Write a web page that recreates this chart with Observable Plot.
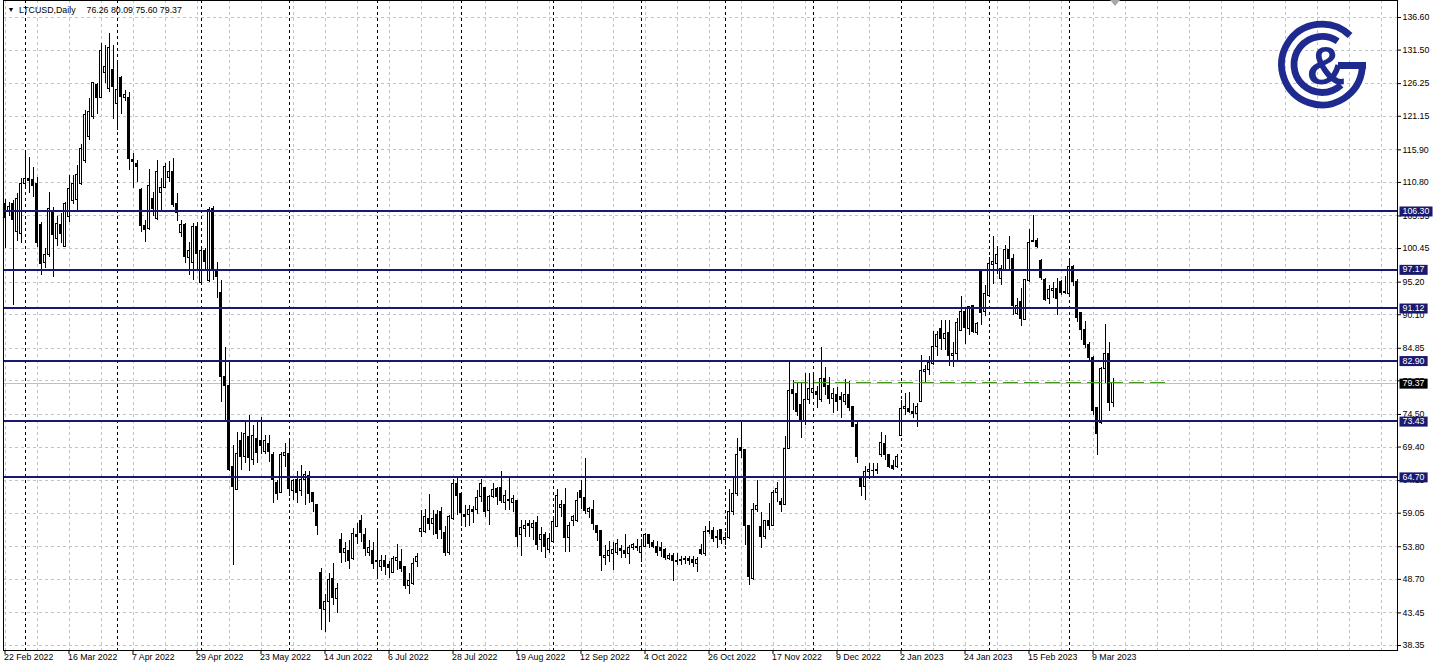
<!DOCTYPE html>
<html><head><meta charset="utf-8">
<script src="https://cdn.jsdelivr.net/npm/d3@7"></script>
<script src="https://cdn.jsdelivr.net/npm/@observablehq/plot@0.6"></script>
<style>
html,body{margin:0;padding:0;background:#fff;}
#chart{width:1438px;height:668px;overflow:hidden;}
</style></head><body><div id="chart"></div>
<script>
// ---------------- data ----------------
const symbol = "LTCUSD";
const timeframe = "Daily";
const open = [
107.45,106.15,107.45,103.0,102.8,110.6,111.4,111.2,110.5,104.2,
98.2,99.4,106.4,102.0,104.2,100.7,105.4,107.96,108.1,110.5,
114.2,117.9,121.0,125.97,124.0,127.9,125.4,128.4,123.0,127.2,
124.0,124.0,114.3,113.7,109.6,104.05,103.5,108.2,105.1,109.1,
110.0,111.5,112.4,107.4,102.9,104.2,99.0,98.2,103.9,95.0,
100.1,95.3,106.7,97.0,93.5,80.3,78.9,66.2,62.7,70.3,
67.8,70.9,67.3,70.7,70.3,68.7,69.9,68.2,63.8,62.2,
68.0,68.3,62.6,64.2,62.6,64.3,64.8,62.2,60.3,49.7,
43.9,45.1,48.8,45.6,54.9,52.9,53.1,51.9,55.6,57.9,
55.6,52.9,53.2,51.6,50.7,51.5,50.9,49.7,51.6,51.4,
50.6,47.7,48.0,51.4,56.1,56.1,58.1,57.4,58.7,59.2,
55.9,52.8,58.2,63.6,62.0,58.8,58.7,59.6,59.6,61.6,
63.0,59.4,61.6,62.9,63.0,60.6,61.1,60.6,61.0,55.6,
56.6,57.4,56.8,57.5,54.8,55.6,53.3,54.5,56.9,59.9,
60.3,55.2,57.8,57.9,62.6,61.4,59.2,59.6,57.1,56.2,
52.1,52.4,52.7,52.9,53.5,53.2,52.7,53.6,53.8,52.8,
53.8,55.6,54.4,53.8,53.6,53.3,51.9,52.4,51.6,51.5,
51.9,51.9,51.7,51.1,53.3,52.6,56.1,56.2,55.4,56.4,
54.9,55.2,59.2,62.1,69.3,68.9,57.1,48.8,59.5,56.9,
55.3,57.8,57.1,62.2,60.8,60.4,69.1,78.3,77.7,75.9,
73.3,76.8,77.8,78.0,76.7,80.1,78.9,76.9,77.6,77.2,
76.4,77.6,75.6,72.8,64.4,63.1,65.5,65.6,65.6,68.1,
69.9,68.1,66.5,66.2,71.2,75.4,75.4,74.9,74.6,76.4,
81.1,81.4,82.4,85.1,87.9,86.3,87.2,83.6,83.9,87.6,
90.5,87.9,91.4,87.2,96.9,90.5,93.1,97.9,98.1,95.7,
97.1,100.3,98.8,90.2,92.1,89.3,95.4,101.5,101.7,98.5,
95.6,92.6,93.8,94.2,95.2,93.6,93.4,97.6,95.2,90.3,
87.7,85.4,83.4,75.5,73.1,81.6,83.9,76.26];
const high = [
108.2,107.7,108.0,109.0,111.4,115.8,114.7,113.2,111.5,104.6,
100.4,109.3,106.9,105.4,105.9,107.7,111.9,111.9,113.5,116.8,
122.0,123.9,126.5,126.2,132.6,132.2,134.05,132.2,129.6,127.3,
125.2,124.9,115.3,114.2,109.8,104.8,112.8,109.3,114.2,111.4,
113.7,114.0,114.5,109.0,104.8,104.3,101.4,104.3,104.6,100.4,
100.4,106.9,107.0,98.3,95.5,85.0,82.9,69.6,71.7,71.7,
73.3,74.3,72.8,73.6,74.1,71.2,71.2,68.6,64.2,68.6,
69.9,70.4,64.4,65.5,66.5,65.5,65.5,62.3,60.4,50.4,
46.4,49.6,51.2,48.0,55.8,54.4,54.8,56.6,57.5,58.7,
56.6,54.8,54.5,56.4,52.4,52.4,51.5,52.2,54.1,53.3,
50.7,49.6,51.9,52.8,59.5,59.7,61.97,59.5,59.5,60.0,
56.9,58.7,64.4,64.7,62.1,60.3,60.3,60.1,62.6,64.3,
63.1,61.8,63.7,63.1,65.5,62.6,64.8,61.8,61.0,57.9,
57.9,57.9,57.9,58.5,56.8,56.1,55.8,58.2,62.7,61.1,
62.9,57.6,58.7,62.3,64.2,67.6,60.0,61.0,57.1,56.2,
54.0,54.7,54.5,54.9,54.0,55.7,54.0,54.3,55.0,54.9,
55.8,55.7,54.8,54.7,54.5,53.5,52.8,52.8,52.7,52.2,
52.3,52.2,52.2,52.1,54.2,56.97,57.8,56.8,56.4,56.4,
56.1,62.7,64.7,70.7,73.3,69.0,57.1,60.6,64.2,59.2,
57.9,60.5,62.6,63.9,61.3,71.0,82.9,79.8,79.5,79.5,
80.9,80.9,80.9,78.8,85.0,81.9,80.3,78.5,78.7,78.0,
79.9,79.6,75.7,73.3,64.7,66.3,66.8,66.9,66.8,71.6,
71.2,68.2,67.3,68.3,76.7,77.7,78.0,76.2,76.2,83.7,
82.2,83.5,87.4,87.5,89.2,89.2,89.2,85.8,89.5,92.95,
91.3,91.4,91.5,88.9,97.0,94.7,99.1,102.3,100.7,97.8,
100.9,102.3,99.6,92.6,94.2,95.6,103.4,105.6,101.97,98.7,
95.7,94.7,95.2,95.7,95.5,96.1,98.6,97.8,95.6,90.3,
89.1,85.8,83.6,75.5,81.9,88.6,85.8,80.09];
const low = [
100.4,105.4,91.5,101.5,101.2,110.0,109.0,108.5,100.6,96.2,
97.3,99.1,95.9,100.7,101.2,100.7,104.6,107.4,106.1,110.3,
113.7,117.4,120.7,121.5,123.9,126.2,124.9,120.7,118.9,121.5,
123.5,112.7,109.8,110.8,102.9,101.4,103.2,105.4,104.8,106.4,
109.8,110.8,106.9,104.7,102.2,98.1,96.2,95.5,96.8,94.7,
96.8,95.2,95.5,92.6,76.4,73.3,65.5,50.9,62.6,65.7,
66.8,65.6,66.5,66.8,68.3,68.3,67.0,60.5,61.0,62.1,
66.2,61.6,61.0,60.5,61.6,60.3,60.5,59.2,55.6,40.7,
40.4,42.0,44.6,43.3,51.2,51.4,50.3,51.6,54.2,54.5,
52.2,52.2,50.3,49.0,50.0,49.3,48.9,49.6,50.1,49.7,
47.1,46.3,47.7,50.6,55.3,55.8,56.3,55.6,55.0,55.0,
52.2,52.4,57.9,58.7,57.0,56.8,56.9,57.4,58.8,60.8,
58.3,57.1,61.4,60.3,60.5,59.5,59.4,59.2,53.7,52.3,
55.3,55.2,54.8,53.2,52.9,51.9,52.7,54.3,56.8,58.3,
52.9,52.9,56.9,57.6,59.7,58.8,58.2,56.4,54.7,50.0,
50.9,51.4,50.1,52.4,51.9,51.9,51.0,53.2,53.1,51.4,
53.7,53.5,53.6,52.3,52.1,51.6,51.6,48.4,50.9,50.9,
51.0,50.9,50.6,49.7,52.4,52.3,55.7,54.5,53.6,54.2,
54.0,55.0,58.7,61.6,67.6,54.0,47.7,48.5,59.2,53.5,
55.0,56.4,56.9,60.8,59.2,60.2,69.1,75.1,74.2,70.7,
72.8,76.0,77.2,75.4,76.4,77.5,76.0,74.6,74.9,73.8,
75.9,74.9,72.5,66.8,61.6,61.0,64.4,64.6,65.1,67.8,
67.3,66.1,65.7,66.0,71.1,74.3,74.6,73.8,72.5,76.4,
79.4,80.6,82.2,83.6,84.5,84.5,82.0,81.9,82.9,87.5,
85.5,86.9,87.1,86.9,88.4,89.8,92.8,94.9,96.4,94.7,
97.0,96.8,89.98,89.98,88.3,89.2,95.2,101.4,100.4,95.5,
92.1,91.7,92.6,89.98,93.1,93.3,93.3,94.5,88.9,86.1,
84.8,82.7,74.3,68.1,72.9,79.4,75.0,75.60];
const close = [
105.2,106.9,104.85,108.2,110.5,111.4,111.0,110.2,101.3,98.1,
99.4,106.7,102.5,104.3,102.7,107.4,109.8,110.5,112.0,116.1,
121.4,121.8,126.3,124.0,131.3,128.9,131.9,125.7,125.2,124.2,
124.4,114.5,114.0,113.2,103.95,103.3,110.2,106.7,112.4,110.0,
113.2,112.4,107.2,106.0,104.2,99.1,100.1,103.9,99.6,100.1,
98.3,106.5,97.0,96.0,80.3,79.0,65.8,63.2,68.3,67.9,
71.4,67.7,71.2,68.4,69.6,70.3,68.6,64.2,62.1,68.2,
68.4,62.9,64.1,62.2,64.3,65.1,62.0,60.8,57.1,44.1,
45.1,48.6,45.8,47.2,52.9,53.4,51.6,55.8,55.3,55.9,
53.5,53.6,51.1,51.4,51.5,50.7,50.5,51.9,52.1,50.3,
47.7,48.4,51.1,52.2,56.6,58.4,57.3,58.2,55.8,56.4,
52.8,58.4,63.6,61.8,59.1,58.5,59.6,59.2,61.4,63.6,
59.2,61.6,62.7,61.6,60.9,61.7,60.9,61.3,55.3,56.8,
57.1,57.1,57.3,54.0,55.6,53.7,55.0,57.6,61.7,60.4,
55.2,57.1,58.5,61.0,61.4,59.4,59.7,57.3,55.9,52.3,
52.4,53.2,53.3,54.2,53.1,52.7,53.6,54.0,53.6,53.8,
55.6,54.2,53.8,52.9,53.2,52.1,52.4,51.5,51.4,51.8,
51.7,51.5,51.2,51.7,52.7,56.1,56.2,55.0,55.2,54.9,
55.2,59.2,62.1,68.2,68.8,57.1,49.1,59.5,60.1,55.3,
57.8,57.1,62.2,62.9,60.4,69.1,78.1,77.7,74.9,73.3,
76.8,78.5,78.5,77.5,80.1,78.8,76.9,77.7,76.4,76.8,
77.6,75.5,72.6,67.8,63.1,65.5,65.8,65.7,65.8,70.0,
68.2,66.3,66.0,67.8,75.4,75.6,74.9,74.5,75.6,81.3,
81.5,82.5,85.1,86.9,86.3,87.1,83.6,83.9,88.8,90.5,
88.1,91.3,87.4,88.6,90.3,93.3,97.96,98.3,99.5,97.3,
100.3,98.8,91.4,91.5,89.5,95.5,101.4,101.7,100.7,95.9,
92.4,93.9,94.2,92.6,93.5,93.5,97.5,95.2,89.6,87.7,
85.4,83.4,75.1,71.5,81.6,83.9,76.3,79.37];

// time axis labels (bar index -> text), every 16 bars
const labelBars = [0,16,32,48,64,80,96,112,128,144,160,176,192,208,224,240,256,272];
const labelTexts = ["22 Feb 2022","16 Mar 2022","7 Apr 2022","29 Apr 2022","23 May 2022","14 Jun 2022",
  "6 Jul 2022","28 Jul 2022","19 Aug 2022","12 Sep 2022","4 Oct 2022","26 Oct 2022","17 Nov 2022",
  "9 Dec 2022","2 Jan 2023","24 Jan 2023","15 Feb 2023","9 Mar 2023"];
// first bar of each month (period separators)
const monthStartBars = [5,28,49,71,93,114,137,159,180,202,224,246,266];
// price scale labels
const priceTicks = [136.60,131.50,126.25,121.15,115.90,110.80,105.55,100.45,95.20,90.10,84.85,79.75,74.50,69.40,64.15,59.05,53.80,48.70,43.45,38.35];
// horizontal support / resistance levels
const levels = [106.30, 97.17, 91.12, 82.90, 73.43, 64.70];
// dashed green horizontal trend line (price, start bar, end bar)
const trendPrice = [79.45];
const trendFromBar = [197];
const trendToBar = [291];
// visible window
const visibleBars = [-0.375, 348.125];
const visiblePrice = [37.57, 139.26];
const gridStep = 8;

// ---------------- font ----------------
function hasFont(name){
  const c = document.createElement("canvas").getContext("2d");
  const s = "22 Feb 2022 LTCUSD,Daily 136.60 &";
  c.font = "40px monospace"; const a = c.measureText(s).width;
  c.font = `40px "${name}", monospace`; const b = c.measureText(s).width;
  return Math.abs(a-b) > 0.5;
}
const narrow = hasFont("Liberation Sans Narrow");
const FONT = narrow ? '"Liberation Sans Narrow", "Liberation Sans", sans-serif' : '"Liberation Sans", Arial, sans-serif';
const FS = narrow ? 10.5 : 8.8;

const NAVY = "#191970";
const LOGO = "#1f2a8e";

const candles = open.map((o,i)=>({i, open:o, high:high[i], low:low[i], close:close[i]}));
const lastBar = candles.length - 1;
const lastClose = close[lastBar];
const gridBars = d3.range(0, visibleBars[1], gridStep);
const trend = trendPrice.map((p,k)=>({price:p, from:trendFromBar[k], to:trendToBar[k]}));

const chart = Plot.plot({
  width: 1438, height: 668,
  marginLeft: 3, marginRight: 41, marginTop: 0, marginBottom: 18,
  style: {fontFamily: FONT, fontSize: FS + "px", color: "#000", background: "#fff", overflow: "visible"},
  x: {type: "linear", domain: visibleBars, axis: "bottom", ticks: labelBars, tickFormat: () => "", tickSize: 4, label: null},
  y: {type: "linear", domain: visiblePrice, axis: "right", ticks: priceTicks, tickFormat: d => d.toFixed(2), tickSize: 3, tickPadding: 2, label: null},
  marks: [
    Plot.ruleY(priceTicks, {stroke: "#c3c3c3", strokeDasharray: "3,3", shapeRendering: "crispEdges"}),
    Plot.ruleX(gridBars, {stroke: "#c3c3c3", strokeDasharray: "3,3", shapeRendering: "crispEdges"}),
    Plot.ruleX(monthStartBars, {stroke: "#000", strokeDasharray: "3,3", shapeRendering: "crispEdges"}),
    Plot.ruleY([lastClose], {stroke: "#c0c0c0", shapeRendering: "crispEdges"}),
    Plot.ruleX(candles, {x: "i", y1: "low", y2: "high", stroke: "#000", shapeRendering: "crispEdges"}),
    Plot.rect(candles, {x1: d => d.i - 0.25, x2: d => d.i + 0.25, y1: "open", y2: "close", inset: 0,
      fill: d => d.close >= d.open ? "#fff" : "#000", stroke: "#000", shapeRendering: "crispEdges"}),
    Plot.ruleY(levels, {stroke: NAVY, strokeWidth: 2, shapeRendering: "crispEdges"}),
    Plot.ruleY(trend, {y: "price", x1: "from", x2: "to", stroke: "#3f9a1c", strokeDasharray: "15,6", shapeRendering: "crispEdges"}),
    Plot.frame({stroke: "#000", shapeRendering: "crispEdges"}),
    Plot.text(labelBars, {x: d => d, text: (d, i) => labelTexts[i], frameAnchor: "bottom", textAnchor: "start", dy: 9, dx: -1}),
    Plot.text(levels, {y: d => d, text: d => d.toFixed(2), frameAnchor: "right", textAnchor: "start", dx: 5, fill: "#fff", ariaDescription: "level-labels"}),
    Plot.text([lastClose], {y: d => d, text: d => d.toFixed(2), frameAnchor: "right", textAnchor: "start", dx: 5, fill: "#fff", ariaDescription: "bid-label"}),
    Plot.text(["\u25BC"], {frameAnchor: "top-left", dx: 4, dy: 7, textAnchor: "start", fontSize: 7}),
    Plot.text([`${symbol},${timeframe}`], {frameAnchor: "top-left", dx: 15.5, dy: 6.5, textAnchor: "start"}),
    Plot.text([[open[lastBar], high[lastBar], low[lastBar], close[lastBar]].map(v => v.toFixed(2)).join(" ")],
      {frameAnchor: "top-left", dx: 83, dy: 6.5, textAnchor: "start"})
  ]
});
document.getElementById("chart").appendChild(chart);

const svg = d3.select(chart);
function boxify(desc, color){
  svg.selectAll(`g[aria-description="${desc}"] text`).each(function(){
    const bb = this.getBBox();
    const r = document.createElementNS("http://www.w3.org/2000/svg", "rect");
    const t = this.getAttribute("transform");
    if (t) r.setAttribute("transform", t);
    r.setAttribute("x", bb.x - 3);
    r.setAttribute("y", bb.y + 0.5);
    r.setAttribute("width", bb.width + 6);
    r.setAttribute("height", Math.max(10, bb.height - 1.5));
    r.setAttribute("fill", color);
    this.parentNode.insertBefore(r, this);
  });
}
boxify("level-labels", NAVY);
boxify("bid-label", "#000");

// chart-shift marker
const xs = chart.scale("x");
const sx = xs.apply(lastBar) + 2.5;
svg.append("path").attr("d", `M${sx-5},0L${sx+5},0L${sx},6Z`).attr("fill", "#a8a8a8");

// logo
const cx = 1322, cy = 64.5;
const g = svg.append("g").attr("fill", "none").attr("stroke", LOGO).attr("stroke-width", 6.8);
const deg = Math.PI / 180;
const p1 = d3.path(); p1.arc(cx, cy, 40.4, -46 * deg, 6 * deg, true);
g.append("path").attr("d", p1.toString());
const p2 = d3.path(); p2.arc(cx, cy, 28, -56 * deg, 47 * deg, true);
g.append("path").attr("d", p2.toString());
svg.append("rect").attr("x", 1338).attr("y", 62).attr("width", 28).attr("height", 7).attr("fill", LOGO);
svg.append("text").attr("x", 1326).attr("y", 65).attr("text-anchor", "middle").attr("dominant-baseline", "central")
  .attr("font-family", '"Liberation Sans", Arial, sans-serif').attr("font-weight", "bold").attr("font-size", 54)
  .attr("fill", LOGO).text("&");
</script>
</body></html>
